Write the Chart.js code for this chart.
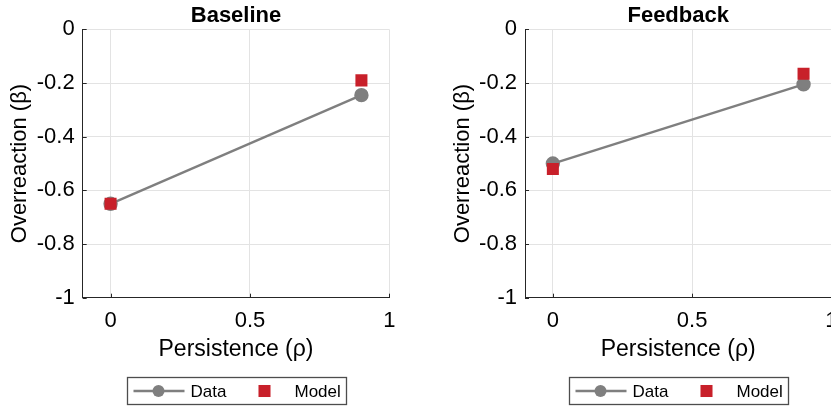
<!DOCTYPE html>
<html>
<head>
<meta charset="utf-8">
<script src="https://cdn.jsdelivr.net/npm/chart.js@4"></script>
<style>
  html, body { margin: 0; padding: 0; background: #fff; overflow: hidden; }
  body { width: 831px; height: 406px; position: relative; }
  .panel { position: absolute; top: 0; height: 406px; }
  #left { left: 0; width: 415px; }
  #right { left: 415px; width: 440px; }
</style>
</head>
<body>
<div class="panel" id="left"><canvas id="baseline"></canvas></div>
<div class="panel" id="right"><canvas id="feedback"></canvas></div>
<script>
// persistence levels on the x axis
const persistence = [0, 0.9];

// estimated overreaction coefficients
const baselineData = [-0.65, -0.245];
const baselineModel = [-0.65, -0.19];
const feedbackData = [-0.5, -0.205];
const feedbackModel = [-0.52, -0.165];

const xTicks = [0, 0.5, 1];
const yTicks = [0, -0.2, -0.4, -0.6, -0.8, -1];

const FONT = "'Liberation Sans', Arial, Helvetica, sans-serif";
const AXIS_COLOR = '#262626';
const GRID_COLOR = '#e3e3e3';
const GRAY = '#7f7f7f';
const RED = '#c8202a';

// small inward tick marks like matlab axes
const innerTicks = {
    id: 'innerTicks',
    beforeDatasetsDraw(chart) {
        const {ctx, chartArea, scales} = chart;
        ctx.save();
        ctx.strokeStyle = AXIS_COLOR;
        ctx.lineWidth = 1;
        ctx.beginPath();
        xTicks.forEach(v => {
            const px = Math.round(scales.x.getPixelForValue(v)) + 0.5;
            ctx.moveTo(px, chartArea.bottom);
            ctx.lineTo(px, chartArea.bottom - 4);
        });
        yTicks.forEach(v => {
            const py = Math.round(scales.y.getPixelForValue(v)) + 0.5;
            ctx.moveTo(chartArea.left, py);
            ctx.lineTo(chartArea.left + 4, py);
        });
        ctx.stroke();
        ctx.restore();
    }
};

// boxed legend under the axes
const boxLegend = {
    id: 'boxLegend',
    afterDraw(chart) {
        const {ctx, chartArea} = chart;
        const w = 219, h = 27;
        const x0 = Math.round((chartArea.left + chartArea.right) / 2 - w / 2) + 0.5;
        const y0 = 377.5;
        const cy = y0 + h / 2;
        const [data, model] = chart.data.datasets;
        ctx.save();
        ctx.fillStyle = '#fff';
        ctx.fillRect(x0, y0, w, h);
        ctx.strokeStyle = '#4d4d4d';
        ctx.lineWidth = 1.3;
        ctx.strokeRect(x0, y0, w, h);

        // Data: line with circle marker
        ctx.strokeStyle = data.borderColor;
        ctx.lineWidth = data.borderWidth;
        ctx.beginPath();
        ctx.moveTo(x0 + 6, cy);
        ctx.lineTo(x0 + 57, cy);
        ctx.stroke();
        ctx.fillStyle = data.pointBackgroundColor;
        ctx.beginPath();
        ctx.arc(x0 + 31, cy, data.pointRadius, 0, Math.PI * 2);
        ctx.fill();

        // Model: square marker
        const s = model.pointRadius * Math.SQRT1_2;
        ctx.fillStyle = model.pointBackgroundColor;
        ctx.fillRect(x0 + 137 - s, cy - s, 2 * s, 2 * s);

        ctx.fillStyle = '#000';
        ctx.font = '17px ' + FONT;
        ctx.textBaseline = 'middle';
        ctx.textAlign = 'left';
        ctx.fillText(data.label, x0 + 63, cy + 1);
        ctx.fillText(model.label, x0 + 167, cy + 1);
        ctx.restore();
    }
};

function makeChart(id, title, dataVals, modelVals, padLeft, padRight) {
    const ctx = document.getElementById(id).getContext('2d');
    return new Chart(ctx, {
        type: 'line',
        data: {
            datasets: [{
                label: 'Data',
                data: persistence.map((x, i) => ({x: x, y: dataVals[i]})),
                borderColor: GRAY,
                backgroundColor: GRAY,
                pointBackgroundColor: GRAY,
                pointBorderColor: GRAY,
                pointStyle: 'circle',
                pointRadius: 6,
                borderWidth: 2.4,
                order: 1
            }, {
                label: 'Model',
                data: persistence.map((x, i) => ({x: x, y: modelVals[i]})),
                showLine: false,
                borderColor: RED,
                backgroundColor: RED,
                pointBackgroundColor: RED,
                pointBorderColor: RED,
                pointBorderWidth: 0,
                pointStyle: 'rect',
                pointRadius: 8.5,
                order: 0
            }]
        },
        options: {
            responsive: true,
            maintainAspectRatio: false,
            animation: false,
            events: [],
            layout: {
                padding: {left: padLeft, right: padRight, top: 0, bottom: 38.3}
            },
            scales: {
                x: {
                    type: 'linear',
                    min: -0.1,
                    max: 1,
                    afterBuildTicks: scale => { scale.ticks = xTicks.map(v => ({value: v})); },
                    afterFit: scale => { scale.height = 70; },
                    grid: {color: GRID_COLOR, drawTicks: false},
                    border: {color: AXIS_COLOR, width: 1},
                    ticks: {
                        color: '#000',
                        font: {family: FONT, size: 22},
                        padding: 10,
                        maxRotation: 0,
                        callback: v => String(v)
                    },
                    title: {
                        display: true,
                        text: 'Persistence (ρ)',
                        color: '#000',
                        font: {family: FONT, size: 23},
                        padding: {top: 0, bottom: 4}
                    }
                },
                y: {
                    min: -1,
                    max: 0,
                    afterBuildTicks: scale => { scale.ticks = yTicks.map(v => ({value: v})); },
                    afterFit: scale => { scale.width = 82.7; },
                    grid: {color: GRID_COLOR, drawTicks: false},
                    border: {color: AXIS_COLOR, width: 1},
                    ticks: {
                        color: '#000',
                        font: {family: FONT, size: 22},
                        padding: 8,
                        callback: v => String(v)
                    },
                    title: {
                        display: true,
                        text: 'Overreaction (β)',
                        color: '#000',
                        font: {family: FONT, size: 22},
                        padding: {top: 7, bottom: 0}
                    }
                }
            },
            plugins: {
                legend: {display: false},
                tooltip: {enabled: false},
                title: {
                    display: true,
                    fullSize: false,
                    text: title,
                    color: '#000',
                    font: {family: FONT, size: 22, weight: 'bold'},
                    padding: {top: 3, bottom: 0}
                }
            }
        },
        plugins: [innerTicks, boxLegend]
    });
}

makeChart('baseline', 'Baseline', baselineData, baselineModel, 0, 25.7);
makeChart('feedback', 'Feedback', feedbackData, feedbackModel, 27.3, 23.6);
</script>
</body>
</html>
